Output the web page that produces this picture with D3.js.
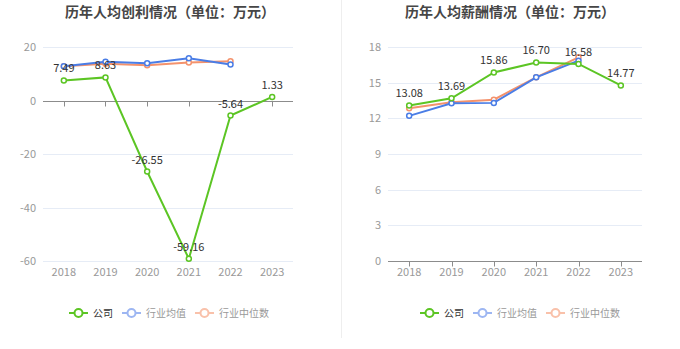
<!DOCTYPE html>
<html>
<head>
<meta charset="utf-8">
<script src="https://cdn.jsdelivr.net/npm/d3@7"></script>
<style>
  body { margin: 0; background: #fff; }
  svg { display: block; font-family: "Noto Sans CJK SC", "Noto Sans", sans-serif; }
</style>
</head>
<body>
<div id="chart"></div>
<script>
// yearly figures, 万元
var years = ["2018", "2019", "2020", "2021", "2022", "2023"];

var profitCompany = [7.49, 8.63, -26.55, -59.16, -5.64, 1.33];
var profitAvg = [12.8, 14.5, 13.9, 15.8, 13.5];
var profitMedian = [12.8, 13.7, 13.2, 14.2, 14.7];
var profitTicks = [20, 0, -20, -40, -60];

var payCompany = [13.08, 13.69, 15.86, 16.70, 16.58, 14.77];
var payAvg = [12.21, 13.26, 13.3, 15.45, 16.85];
var payMedian = [12.84, 13.35, 13.57, 15.45, 17.13];
var payTicks = [0, 3, 6, 9, 12, 15, 18];

var seriesNames = ["公司", "行业均值", "行业中位数"];

var GREEN = "#5cc524", BLUE = "#4a7de6", ORANGE = "#f4926c";
var legendColors = [GREEN, "#9db6f2", "#f9c1aa"];
var legendText = ["#333", "#999", "#999"];

var svg = d3.select("#chart").append("svg")
    .attr("width", 680)
    .attr("height", 349);

// divider between the two panels
svg.append("line")
    .attr("x1", 341.5).attr("x2", 341.5)
    .attr("y1", 0).attr("y2", 338)
    .attr("stroke", "#eeeeee");

function drawPanel(opt) {
  var g = svg.append("g");

  var x = d3.scaleBand().domain(years).range([opt.left, opt.right]);
  var y = d3.scaleLinear().domain(opt.domain).range([opt.bottom, opt.top]);
  var cx = function(d, i) { return x(years[i]) + x.bandwidth() / 2; };

  g.append("text")
    .attr("x", opt.titleX).attr("y", 17)
    .attr("text-anchor", "middle")
    .attr("font-size", "14px")
    .attr("font-weight", 700)
    .attr("fill", "#464646")
    .text(opt.title);

  // grid lines
  g.selectAll(".grid").data(opt.ticks).enter().append("line")
    .attr("x1", opt.left).attr("x2", opt.right)
    .attr("y1", function(d) { return Math.round(y(d)) + 0.5; })
    .attr("y2", function(d) { return Math.round(y(d)) + 0.5; })
    .attr("stroke", "#e6ecf6");

  g.selectAll(".ylab").data(opt.ticks).enter().append("text")
    .attr("x", opt.left - 7)
    .attr("y", function(d) { return y(d) + 4; })
    .attr("text-anchor", "end")
    .attr("font-size", "11px")
    .attr("fill", "#999")
    .text(function(d) { return d; });

  // x axis sits on zero
  var y0 = Math.round(y(0)) + 0.5;
  g.append("line")
    .attr("x1", opt.left).attr("x2", opt.right)
    .attr("y1", y0).attr("y2", y0)
    .attr("stroke", "#8c8c8c");
  g.selectAll(".xtick").data(years).enter().append("line")
    .attr("x1", function(d) { return Math.round(x(d) + x.bandwidth() / 2) + 0.5; })
    .attr("x2", function(d) { return Math.round(x(d) + x.bandwidth() / 2) + 0.5; })
    .attr("y1", y0).attr("y2", y0 + 5)
    .attr("stroke", "#8c8c8c");
  g.selectAll(".xlab").data(years).enter().append("text")
    .attr("x", function(d) { return x(d) + x.bandwidth() / 2; })
    .attr("y", opt.bottom + 15)
    .attr("text-anchor", "middle")
    .attr("font-size", "11px")
    .attr("fill", "#999")
    .text(function(d) { return d; });

  var line = d3.line().x(cx).y(function(d) { return y(d); });

  var series = [
    { values: opt.median, color: ORANGE },
    { values: opt.avg, color: BLUE },
    { values: opt.company, color: GREEN }
  ];

  series.forEach(function(s) {
    g.append("path")
      .datum(s.values)
      .attr("d", line)
      .attr("fill", "none")
      .attr("stroke", s.color)
      .attr("stroke-width", 2);
    g.selectAll(null).data(s.values).enter().append("circle")
      .attr("cx", cx)
      .attr("cy", function(d) { return y(d); })
      .attr("r", 2.5)
      .attr("fill", "#fff")
      .attr("stroke", s.color)
      .attr("stroke-width", 1.5);
  });

  g.selectAll(".vlab").data(opt.company).enter().append("text")
    .attr("x", cx)
    .attr("y", function(d) { return y(d) - 8; })
    .attr("text-anchor", "middle")
    .attr("font-size", "11px")
    .attr("fill", "#333")
    .text(function(d) { return d.toFixed(2); });

  // legend
  var lx = opt.legendX;
  seriesNames.forEach(function(name, i) {
    var lg = g.append("g").attr("transform", "translate(" + lx + ",313)");
    lg.append("line")
      .attr("x1", 0).attr("x2", 19)
      .attr("stroke", legendColors[i])
      .attr("stroke-width", 2);
    lg.append("circle")
      .attr("cx", 9.5).attr("r", 4)
      .attr("fill", "#fff")
      .attr("stroke", legendColors[i])
      .attr("stroke-width", 2);
    var t = lg.append("text")
      .attr("x", 24).attr("y", 3.5)
      .attr("font-size", "10px")
      .attr("fill", legendText[i])
      .text(name);
    lx += 24 + t.node().getComputedTextLength() + 9;
  });
}

drawPanel({
  title: "历年人均创利情况（单位：万元）", titleX: 170,
  left: 43, right: 293, top: 47, bottom: 261,
  domain: [-60, 20], ticks: profitTicks,
  company: profitCompany, avg: profitAvg, median: profitMedian,
  legendX: 69
});

drawPanel({
  title: "历年人均薪酬情况（单位：万元）", titleX: 510,
  left: 388, right: 642, top: 47, bottom: 261,
  domain: [0, 18], ticks: payTicks,
  company: payCompany, avg: payAvg, median: payMedian,
  legendX: 420
});
</script>
</body>
</html>
